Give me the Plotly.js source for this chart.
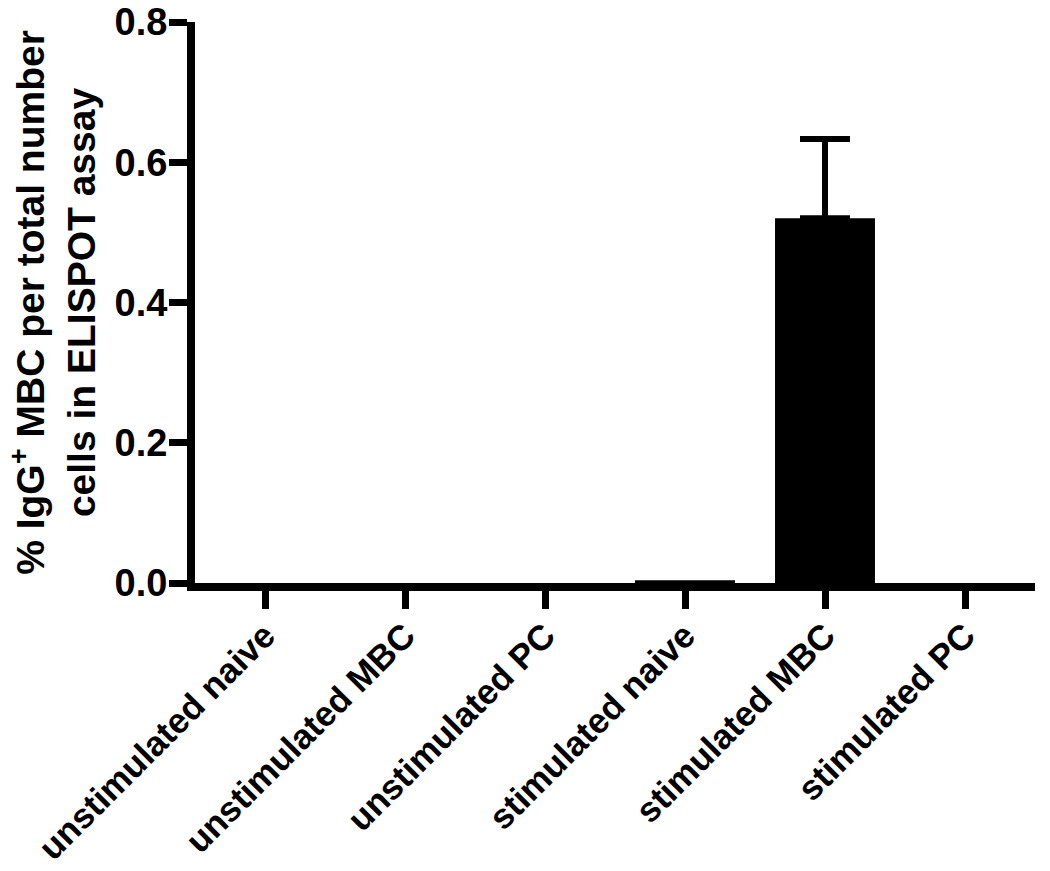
<!DOCTYPE html>
<html>
<head>
<meta charset="utf-8">
<script src="https://cdn.plot.ly/plotly-3.0.1.min.js"></script>
<style>html,body{margin:0;padding:0;background:#fff;}#chart{width:1050px;height:871px;}</style>
</head>
<body>
<div id="chart"></div>
<script>
const categories = ["unstimulated naive", "unstimulated MBC", "unstimulated PC", "stimulated naive", "stimulated MBC", "stimulated PC"];
const values = [0, 0, 0, 0.004, 0.52, 0];
const errorCategories = ["stimulated MBC"];
const errorMeans = [0.52];
const errorsUp = [0.113];
const yTickVals = [0, 0.2, 0.4, 0.6, 0.8];
const yTickText = ["0.0", "0.2", "0.4", "0.6", "0.8"];
const yTitle = "% IgG<sup>+</sup> MBC per total number<br>cells in ELISPOT assay";

const fam = "Liberation Sans, Arial, sans-serif";

const bars = {
  type: "bar",
  x: categories,
  y: values,
  marker: {color: "#000", line: {color: "#000", width: 0}},
  hoverinfo: "skip"
};

const errs = {
  type: "scatter",
  mode: "markers",
  x: errorCategories,
  y: errorMeans,
  marker: {size: 0.1, color: "#000", opacity: 0},
  error_y: {type: "data", symmetric: false, array: errorsUp, arrayminus: errorsUp.map(() => 0), color: "#000", thickness: 6, width: 25, visible: true},
  hoverinfo: "skip"
};

const layout = {
  width: 1050, height: 871,
  paper_bgcolor: "#fff", plot_bgcolor: "#fff",
  margin: {l: 195, r: 15, t: 22, b: 288},
  showlegend: false,
  bargap: 0.286,
  font: {family: fam, size: 36, color: "#000", weight: "bold"},
  xaxis: {
    type: "category",
    range: [-0.5, 5.5],
    showline: true, linecolor: "#000", linewidth: 8,
    ticks: "outside", ticklen: 18, tickwidth: 7, tickcolor: "#000",
    tickangle: -45,
    ticklabelstandoff: -8,
    tickfont: {family: fam, size: 35, color: "#000", weight: "bold"},
    showgrid: false, zeroline: false, automargin: false
  },
  yaxis: {
    range: [0, 0.8],
    tickvals: yTickVals, ticktext: yTickText,
    showline: true, linecolor: "#000", linewidth: 8,
    ticks: "outside", ticklen: 18, tickwidth: 7, tickcolor: "#000",
    ticklabelstandoff: -6,
    tickfont: {family: fam, size: 38, color: "#000", weight: "bold"},
    showgrid: false, zeroline: false, automargin: false,
    title: {text: yTitle, font: {family: fam, size: 39, color: "#000", weight: "bold"}, standoff: 10}
  }
};

Plotly.newPlot("chart", [bars, errs], layout, {displayModeBar: false, staticPlot: true});
</script>
</body>
</html>
